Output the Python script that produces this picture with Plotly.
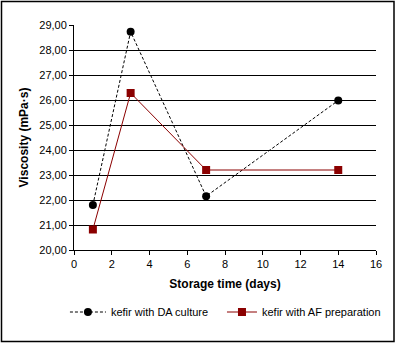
import plotly.graph_objects as go

days = [1, 3, 7, 14]
da_culture = [21.80, 28.73, 22.15, 25.98]
af_prep = [20.82, 26.28, 23.20, 23.20]
y_ticks = [20, 21, 22, 23, 24, 25, 26, 27, 28, 29]
y_labels = ["20,00", "21,00", "22,00", "23,00", "24,00", "25,00", "26,00", "27,00", "28,00", "29,00"]

fig = go.Figure()
fig.add_trace(go.Scatter(
    x=days, y=da_culture, mode="lines+markers", name="kefir with DA culture",
    line=dict(color="black", width=1, dash="3px,2px"),
    marker=dict(symbol="circle", size=8, color="black"),
    legend="legend",
))
fig.add_trace(go.Scatter(
    x=days, y=af_prep, mode="lines+markers", name="kefir with AF preparation",
    line=dict(color="#8B0000", width=1),
    marker=dict(symbol="square", size=8, color="#8B0000"),
    legend="legend2",
))

leg_y = (250 - 312) / 225
fig.update_layout(
    width=400, height=343,
    margin=dict(l=74, r=24, t=25, b=93, autoexpand=False),
    paper_bgcolor="white", plot_bgcolor="white",
    font=dict(family="Liberation Sans, Arial", size=11, color="black"),
    showlegend=True,
    legend=dict(orientation="h", x=-0.03, xanchor="left", y=leg_y, yanchor="middle",
                font=dict(size=11), itemwidth=36, bgcolor="rgba(0,0,0,0)"),
    legend2=dict(orientation="h", x=0.49, xanchor="left", y=leg_y, yanchor="middle",
                 font=dict(size=11), itemwidth=30, bgcolor="rgba(0,0,0,0)"),
    xaxis=dict(range=[0, 16], tickvals=list(range(0, 17, 2)), showgrid=False,
               showline=True, linecolor="black", linewidth=1, ticks="outside",
               ticklen=4, tickcolor="black", zeroline=False,
               title=dict(text="<b>Storage time (days)</b>", font=dict(size=12), standoff=10)),
    yaxis=dict(range=[20, 29], tickvals=y_ticks, ticktext=y_labels, showgrid=True,
               gridcolor="black", gridwidth=1, showline=True, linecolor="black",
               linewidth=1, ticks="outside", ticklen=4, tickcolor="black", zeroline=False,
               title=dict(text="<b>Viscosity (mPa·s)</b>", font=dict(size=12), standoff=8)),
    shapes=[dict(type="rect", xref="paper", yref="paper",
                 x0=(1.5 - 74) / 302, x1=(394 - 74) / 302,
                 y0=(250 - 341.5) / 225, y1=(250 - 1.5) / 225,
                 line=dict(color="black", width=1.5), layer="below")],
)

fig.write_html("out.html")
